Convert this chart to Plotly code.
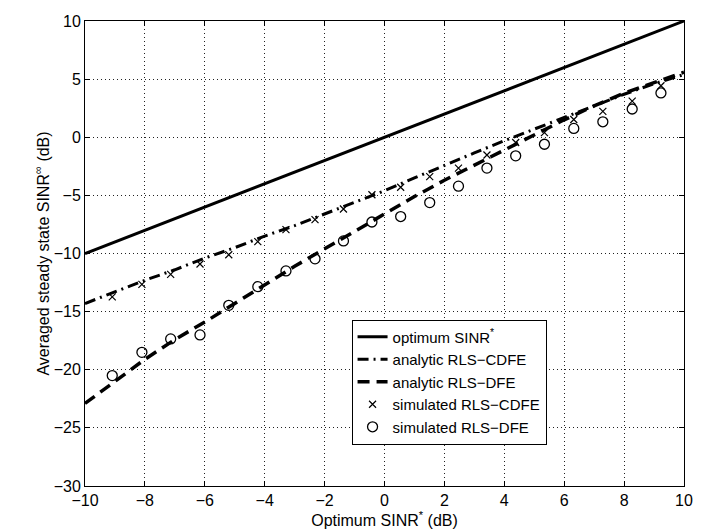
import plotly.graph_objects as go

# ---- data ----
opt_x = [-10, 10]
opt_y = [-10, 10]

line_x = [-10, -9, -8, -7, -6, -5, -4, -3, -2, -1, 0, 1, 2, 3, 4, 5, 6, 7, 8, 9, 10]
cdfe_line = [-14.3, -13.3, -12.3, -11.4, -10.4, -9.5, -8.5, -7.6, -6.6, -5.6, -4.6,
             -3.5, -2.4, -1.35, -0.3, 0.7, 1.7, 2.7, 3.7, 4.6, 5.4]
dfe_line = [-22.9, -21.0, -19.1, -17.4, -15.9, -14.3, -12.7, -11.1, -9.6, -8.1, -6.6,
            -5.1, -3.7, -2.4, -1.1, 0.2, 1.5, 2.7, 3.8, 4.7, 5.6]

sim_x = [-9.09, -8.10, -7.14, -6.16, -5.20, -4.23, -3.29, -2.32, -1.37, -0.42,
         0.54, 1.51, 2.47, 3.42, 4.38, 5.34, 6.32, 7.29, 8.27, 9.23]
cdfe_sim = [-13.73, -12.65, -11.80, -10.90, -10.11, -8.98, -7.94, -7.08, -6.17, -4.95,
            -4.30, -3.39, -2.65, -1.53, -0.45, 0.40, 1.53, 2.23, 3.11, 4.43]
dfe_sim = [-20.50, -18.50, -17.35, -17.00, -14.46, -12.85, -11.50, -10.46, -8.92, -7.29,
           -6.82, -5.62, -4.21, -2.65, -1.60, -0.60, 0.76, 1.33, 2.43, 3.81]

FONT = "Liberation Sans, Arial, Helvetica, sans-serif"

fig = go.Figure()
fig.add_trace(go.Scatter(x=opt_x, y=opt_y, mode="lines", name="optimum SINR<sup>*</sup>",
                         line=dict(color="black", width=3)))
fig.add_trace(go.Scatter(x=line_x, y=cdfe_line, mode="lines", name="analytic RLS\u2212CDFE",
                         line=dict(color="black", width=3, dash="11px,5px,2px,5px")))
fig.add_trace(go.Scatter(x=line_x, y=dfe_line, mode="lines", name="analytic RLS\u2212DFE",
                         line=dict(color="black", width=3.5, dash="12px,7px")))
fig.add_trace(go.Scatter(x=sim_x, y=cdfe_sim, mode="markers", name="simulated RLS\u2212CDFE",
                         marker=dict(symbol="x-thin", size=7, color="black",
                                     line=dict(color="black", width=1.2))))
fig.add_trace(go.Scatter(x=sim_x, y=dfe_sim, mode="markers", name="simulated RLS\u2212DFE",
                         marker=dict(symbol="circle-open", size=10, color="black",
                                     line=dict(color="black", width=1.3))))

axis_common = dict(
    showline=True, linecolor="black", linewidth=1, mirror="ticks",
    ticks="inside", ticklen=5, tickcolor="black", tickwidth=1,
    showgrid=True, gridcolor="#222222", griddash="1px,3px", gridwidth=1,
    zeroline=False, tickfont=dict(size=16, color="black", family=FONT),
    ticklabeloverflow="allow",
)

fig.update_xaxes(range=[-10, 10], dtick=2, tick0=-10,
                 title=dict(text="Optimum SINR<sup>*</sup> (dB)",
                            font=dict(size=16, color="black", family=FONT), standoff=2),
                 **axis_common)
fig.update_yaxes(range=[-30, 10], dtick=5, tick0=-30,
                 title=dict(text="Averaged steady state SINR<sup>\u221e</sup> (dB)",
                            font=dict(size=16, color="black", family=FONT), standoff=0),
                 **axis_common)

fig.update_layout(
    width=712, height=531,
    margin=dict(l=77, r=36, t=5, b=53),
    paper_bgcolor="white", plot_bgcolor="white",
    font=dict(family=FONT, size=16, color="black"),
    legend=dict(x=0.445, y=0.358, xanchor="left", yanchor="top",
                bgcolor="white", bordercolor="black", borderwidth=1,
                font=dict(size=15, color="black", family=FONT),
                tracegroupgap=0, itemwidth=30),
    showlegend=True,
)

fig.write_html("out.html")
